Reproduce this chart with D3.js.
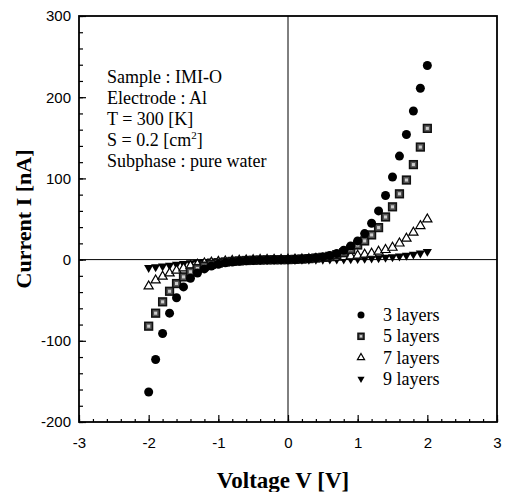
<!DOCTYPE html>
<html>
<head>
<meta charset="utf-8">
<script src="https://cdn.jsdelivr.net/npm/d3@7"></script>
<style>
    body { margin: 0; background: #fff; }
    .tick-label { font-family: "Liberation Sans", Arial, sans-serif; font-size: 15px; }
    .serif { font-family: "Liberation Serif", "Times New Roman", serif; }
</style>
</head>
<body>
<div id="chart"></div>
<script>
// voltages (V)
const voltages = [-2.0, -1.9, -1.8, -1.7, -1.6, -1.5, -1.4, -1.3, -1.2, -1.1, -1.0,
    -0.9, -0.8, -0.7, -0.6, -0.5, -0.4, -0.3, -0.2, -0.1, 0.0,
    0.1, 0.2, 0.3, 0.4, 0.5, 0.6, 0.7, 0.8, 0.9, 1.0,
    1.1, 1.2, 1.3, 1.4, 1.5, 1.6, 1.7, 1.8, 1.9, 2.0]

// current (nA) per number of layers
const layers3 = [-163, -123, -91, -66, -47, -33.6, -23, -16.5, -11.5, -8, -5.7,
    -4, -3, -2.1, -1.5, -1, -0.7, -0.4, -0.2, -0.1, 0,
    0.4, 0.8, 1.4, 2.2, 3.3, 5, 7.5, 11.5, 16.8, 23,
    32, 44.7, 60, 79, 101.7, 127.5, 154, 183, 211, 239]
const layers5 = [-82, -66, -52, -39, -29.5, -21.3, -15, -11, -8, -5.8, -4.2,
    -3, -2.2, -1.6, -1.1, -0.8, -0.5, -0.3, -0.2, -0.1, 0,
    0.3, 0.7, 1.2, 1.9, 2.8, 4, 6, 8.5, 12.5, 18,
    23, 30.4, 39.4, 52.5, 65, 81, 98, 117, 138.6, 161.6]
const layers7 = [-32.8, -25.4, -20.9, -16.8, -13.5, -10.6, -7.8, -6, -4.6, -3.5, -2.6,
    -2, -1.5, -1.1, -0.8, -0.5, -0.3, -0.2, -0.1, -0.05, 0,
    0.2, 0.4, 0.7, 1.1, 1.5, 2, 2.7, 3.4, 4.2, 5,
    6.2, 7.4, 9.9, 12, 14.8, 20, 26, 33.3, 41.5, 49.7]
const layers9 = [-10, -9, -8, -7, -6, -5, -4, -3.3, -2.6, -2, -1.5,
    -1.1, -0.8, -0.6, -0.4, -0.3, -0.2, -0.1, -0.05, 0, 0,
    0, 0.1, 0.1, 0.2, 0.3, 0.4, 0.5, 0.6, 0.8, 1,
    1.3, 1.7, 2.1, 2.7, 3.4, 4.2, 5.2, 6.5, 8, 9.9]

const seriesNames = ["3 layers", "5 layers", "7 layers", "9 layers"]
const seriesValues = [layers3, layers5, layers7, layers9]

// ticks
const xMajorTicks = [-3, -2, -1, 0, 1, 2, 3]
const yMajorTicks = [-200, -100, 0, 100, 200, 300]

const notes = ["Sample : IMI-O", "Electrode : Al", "T = 300 [K]", "S = 0.2 [cm", "Subphase : pure water"]

const margin = { top: 16, right: 8, bottom: 70, left: 79 }
const width = 505 - margin.left - margin.right
const height = 492 - margin.top - margin.bottom

const svg = d3.select("#chart").append("svg")
    .attr("width", 505)
    .attr("height", 492)
    .append("g")
    .attr("transform", "translate(" + margin.left + "," + margin.top + ")")

const x = d3.scaleLinear().domain([-3, 3]).range([0, width])
const y = d3.scaleLinear().domain([-200, 300]).range([height, 0])

const xMinor = d3.range(-30, 31, 2).map(d => d / 10)
const yMinor = d3.range(-200, 301, 20)

// plain hyphen for negatives, like the original
const fmt = d => String(d)

// minor ticks
svg.append("g")
    .attr("transform", "translate(0," + height + ")")
    .call(d3.axisBottom(x).tickValues(xMinor).tickSize(-3).tickFormat(""))
    .call(g => g.select(".domain").remove())
svg.append("g")
    .call(d3.axisLeft(y).tickValues(yMinor).tickSize(-4).tickFormat(""))
    .call(g => g.select(".domain").remove())

// major ticks with labels
svg.append("g")
    .attr("transform", "translate(0," + height + ")")
    .call(d3.axisBottom(x).tickValues(xMajorTicks).tickSize(-7).tickPadding(15).tickFormat(fmt))
    .call(g => g.select(".domain").remove())
    .selectAll("text").attr("class", "tick-label").attr("fill", "#000")
svg.append("g")
    .call(d3.axisLeft(y).tickValues(yMajorTicks).tickSize(-7).tickPadding(8).tickFormat(fmt))
    .call(g => g.select(".domain").remove())
    .selectAll("text").attr("class", "tick-label").attr("fill", "#000")

svg.selectAll(".tick line").attr("stroke", "#000").attr("stroke-width", 1.2)

// zero lines
svg.append("line")
    .attr("x1", x(0)).attr("x2", x(0)).attr("y1", 0).attr("y2", height)
    .attr("stroke", "#000").attr("stroke-width", 1)
svg.append("line")
    .attr("x1", 0).attr("x2", width).attr("y1", y(0)).attr("y2", y(0))
    .attr("stroke", "#000").attr("stroke-width", 1)

// frame
svg.append("rect")
    .attr("width", width).attr("height", height)
    .attr("fill", "none").attr("stroke", "#000").attr("stroke-width", 1.8)

// marker drawing
function drawMarker(g, idx, size) {
    if (idx === 0) {
        g.append("circle").attr("r", size * 0.5).attr("fill", "#000")
    } else if (idx === 1) {
        let s = size * 0.85
        g.append("rect").attr("x", -s / 2).attr("y", -s / 2).attr("width", s).attr("height", s)
            .attr("fill", "#555").attr("stroke", "#111").attr("stroke-width", 1.6)
        g.append("rect").attr("x", -s / 5).attr("y", -s / 5).attr("width", s / 2.5).attr("height", s / 2.5)
            .attr("fill", "#ccc")
    } else if (idx === 2) {
        g.append("path").attr("d", d3.symbol(d3.symbolTriangle, size * size * 0.45)())
            .attr("fill", "#fff").attr("stroke", "#000").attr("stroke-width", 1.2)
    } else {
        g.append("path").attr("d", d3.symbol(d3.symbolTriangle, size * size * 0.45)())
            .attr("transform", "rotate(180)")
            .attr("fill", "#000")
    }
}

// points (draw later series first so 3 layers sits on top)
for (let i = seriesValues.length - 1; i >= 0; i--) {
    svg.append("g").selectAll("g")
        .data(voltages.map((v, j) => ({ v: v, c: seriesValues[i][j] })))
        .enter().append("g")
        .attr("transform", d => "translate(" + x(d.v) + "," + y(d.c) + ")")
        .each(function () { drawMarker(d3.select(this), i, 9) })
}

// annotation
const note = svg.append("text")
    .attr("class", "serif")
    .attr("font-size", "18px")
    .attr("x", 28)
    .attr("y", 67)
notes.forEach((t, i) => {
    note.append("tspan").attr("x", 28).attr("y", 67 + i * 21).text(t)
    if (i === 3) {
        note.append("tspan").attr("font-size", "11px").attr("dy", -7).text("2")
        note.append("tspan").attr("dy", 7).text("]")
    }
})

// legend
const legend = svg.append("g").attr("transform", "translate(" + (361 - margin.left) + "," + (315 - margin.top) + ")")
seriesNames.forEach((name, i) => {
    let row = legend.append("g").attr("transform", "translate(0," + (i * 21.3) + ")")
    drawMarker(row.append("g"), i, 7)
    row.append("text")
        .attr("class", "serif")
        .attr("font-size", "18px")
        .attr("x", 22)
        .attr("y", 6)
        .text(name)
})

// axis titles
svg.append("text")
    .attr("class", "serif")
    .attr("font-weight", "bold")
    .attr("font-size", "23px")
    .attr("text-anchor", "middle")
    .attr("transform", "translate(" + (283 - margin.left) + "," + (488 - margin.top) + ")")
    .text("Voltage V [V]")

svg.append("text")
    .attr("class", "serif")
    .attr("font-weight", "bold")
    .attr("font-size", "22px")
    .attr("text-anchor", "middle")
    .attr("transform", "translate(" + (31 - margin.left) + "," + (height / 2) + ") rotate(-90)")
    .text("Current I [nA]")
</script>
</body>
</html>
